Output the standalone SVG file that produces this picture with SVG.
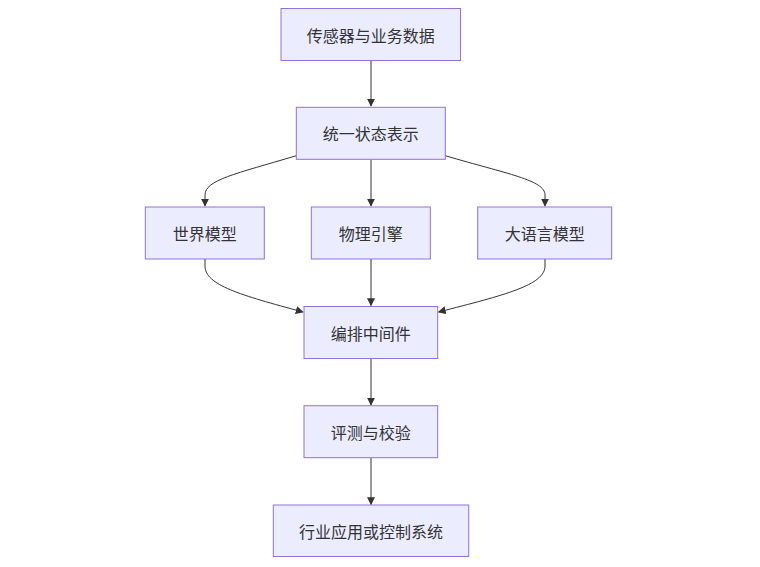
<svg xmlns="http://www.w3.org/2000/svg" width="760" height="567" viewBox="0 0 760 567">
<style>
.node rect{fill:#ECECFF;stroke:#9370DB;stroke-width:1}
.node text{font-family:"Noto Sans CJK SC","Liberation Sans",sans-serif;font-size:16px;fill:#333;text-anchor:middle;dominant-baseline:central}
.edge{fill:none;stroke:#333;stroke-width:1}
</style>
<defs>
<marker id="arr" viewBox="0 0 10 10" refX="9" refY="5" markerWidth="8" markerHeight="8" markerUnits="userSpaceOnUse" orient="auto">
<path d="M0,0 L10,5 L0,10 z" fill="#333"/>
</marker>
</defs>
<rect width="760" height="567" fill="#fff"/>
<g id="edges">
<path class="edge" d="M371,60.5 L371,106" marker-end="url(#arr)"/>
<path class="edge" d="M296.3,155.7 C235,174 205,180 205,195 L205,206" marker-end="url(#arr)"/>
<path class="edge" d="M371,159.5 L371,206" marker-end="url(#arr)"/>
<path class="edge" d="M445.3,155.7 C507,174 545,180 545,195 L545,206" marker-end="url(#arr)"/>
<path class="edge" d="M205,259 L205,266 C205,285 240,295 303,312" marker-end="url(#arr)"/>
<path class="edge" d="M371,259 L371,305.5" marker-end="url(#arr)"/>
<path class="edge" d="M545,259 L545,266 C545,285 505,295 438.5,312" marker-end="url(#arr)"/>
<path class="edge" d="M371,358.5 L371,405" marker-end="url(#arr)"/>
<path class="edge" d="M371,457.5 L371,504.5" marker-end="url(#arr)"/>
</g>
<g id="n1" class="node"><rect x="281" y="8.5" width="179.5" height="52"/><text x="370.8" y="34.5">传感器与业务数据</text></g>
<g id="n2" class="node"><rect x="296.3" y="107.3" width="149" height="52"/><text x="370.8" y="133.3">统一状态表示</text></g>
<g id="n3" class="node"><rect x="145.3" y="207" width="119" height="52"/><text x="204.8" y="233">世界模型</text></g>
<g id="n4" class="node"><rect x="311.3" y="207" width="119" height="52"/><text x="370.8" y="233">物理引擎</text></g>
<g id="n5" class="node"><rect x="477.7" y="207" width="134" height="52"/><text x="544.7" y="233">大语言模型</text></g>
<g id="n6" class="node"><rect x="304" y="306.5" width="133.7" height="52"/><text x="370.8" y="332.5">编排中间件</text></g>
<g id="n7" class="node"><rect x="304" y="405.7" width="133.7" height="52"/><text x="370.8" y="431.7">评测与校验</text></g>
<g id="n8" class="node"><rect x="273.3" y="505" width="195.4" height="51.5"/><text x="371" y="530.8">行业应用或控制系统</text></g>
</svg>
